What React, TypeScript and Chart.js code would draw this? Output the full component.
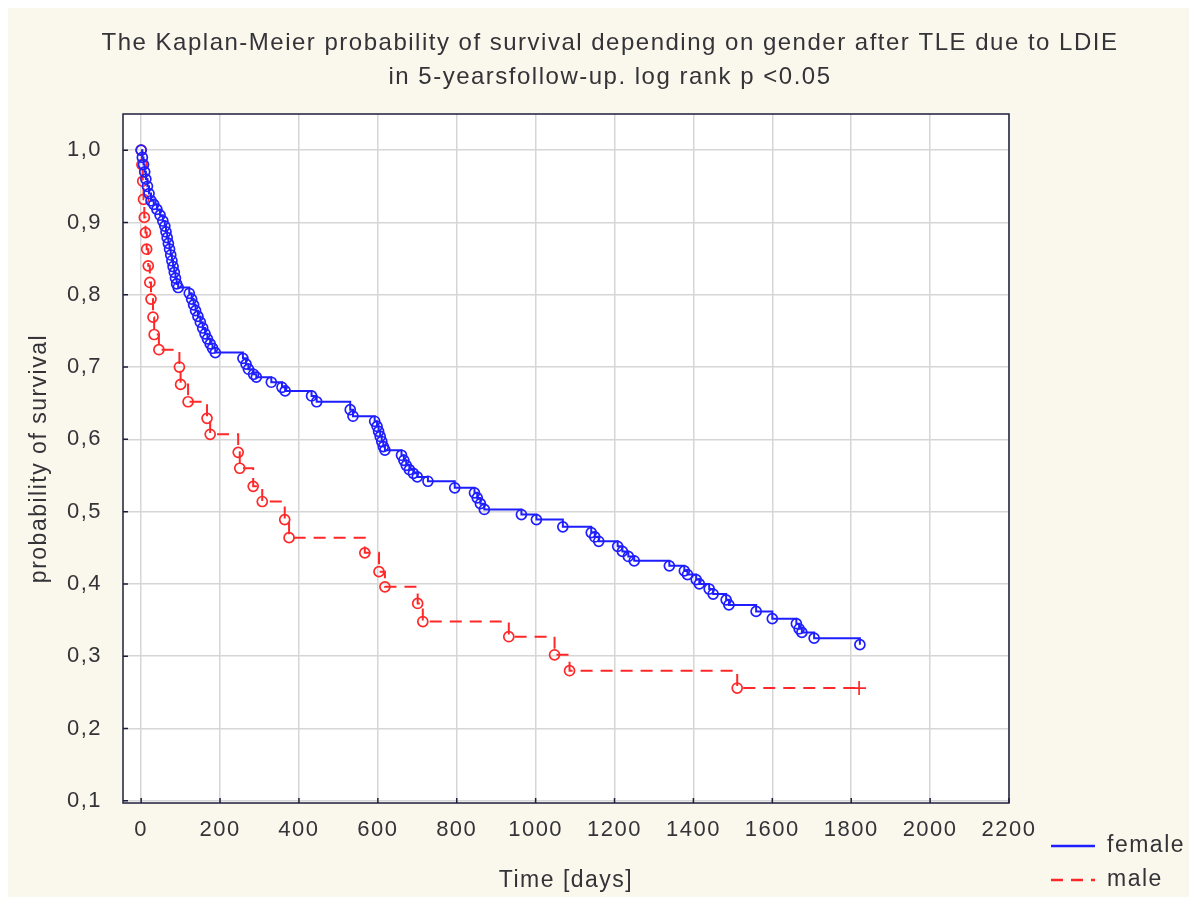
import React, { useEffect, useRef } from 'react';
import { Chart, registerables } from 'chart.js';

Chart.register(...registerables);

// Kaplan-Meier step points: day of each step and survival after it
const femaleDays = [
  0, 3, 6, 9, 12, 16, 20, 25, 32, 40, 48, 55, 60, 63, 66, 69, 72, 75, 78, 81,
  84, 87, 90, 94, 122, 128, 133, 138, 144, 150, 156, 162, 168, 175, 181, 188,
  258, 266, 272, 285, 292, 330, 357, 365, 432, 445, 530, 537, 592, 598, 602,
  606, 610, 614, 618, 660, 666, 672, 680, 690, 700, 727, 795, 845, 852, 860,
  870, 964, 1002, 1069, 1141, 1150, 1160, 1208, 1220, 1235, 1250, 1339, 1377,
  1385, 1407, 1415, 1440, 1450, 1483, 1490, 1559, 1600, 1661, 1668, 1675, 1706,
  1822,
];
const femaleSurvival = [
  1.0, 0.99, 0.98, 0.97, 0.96, 0.95, 0.94, 0.93, 0.925, 0.918, 0.91, 0.902,
  0.895, 0.887, 0.879, 0.871, 0.863, 0.855, 0.847, 0.839, 0.831, 0.823, 0.815,
  0.81, 0.802, 0.794, 0.786, 0.778, 0.77, 0.762, 0.754, 0.746, 0.739, 0.732,
  0.726, 0.72, 0.712, 0.704, 0.697, 0.69, 0.686, 0.679, 0.672, 0.667, 0.66,
  0.652, 0.641, 0.632, 0.625, 0.618, 0.611, 0.604, 0.597, 0.59, 0.585, 0.578,
  0.571, 0.564, 0.558, 0.553, 0.548, 0.542, 0.533, 0.526, 0.519, 0.511, 0.503,
  0.496, 0.489, 0.479, 0.471, 0.465, 0.459, 0.452, 0.445, 0.438, 0.432, 0.425,
  0.418, 0.413, 0.406, 0.4, 0.393, 0.386, 0.378, 0.371, 0.362, 0.352, 0.345,
  0.338, 0.333, 0.325, 0.316,
];

const maleDays = [
  0, 2, 4, 6, 8, 11, 14, 18, 22, 25, 30, 33, 45, 97, 100, 119, 167, 175, 246,
  250, 284, 307, 364, 375, 567, 603, 618, 701, 714, 932, 1048, 1086, 1511, 1820,
];
const maleSurvival = [
  1.0, 0.98, 0.957, 0.932, 0.907, 0.886, 0.863, 0.84, 0.817, 0.794, 0.769,
  0.745, 0.724, 0.7, 0.676, 0.652, 0.629, 0.607, 0.582, 0.56, 0.535, 0.514,
  0.489, 0.464, 0.443, 0.417, 0.396, 0.373, 0.348, 0.327, 0.302, 0.28, 0.256,
  0.256,
];

const xTickValues = [0, 200, 400, 600, 800, 1000, 1200, 1400, 1600, 1800, 2000, 2200];
const yTickValues = [0.1, 0.2, 0.3, 0.4, 0.5, 0.6, 0.7, 0.8, 0.9, 1.0];
const yTickLabels = ['0,1', '0,2', '0,3', '0,4', '0,5', '0,6', '0,7', '0,8', '0,9', '1,0'];

const titleLines = [
  'The Kaplan-Meier probability of survival depending on gender after TLE due to LDIE',
  'in 5-yearsfollow-up. log rank p <0.05',
];
const xTitle = 'Time [days]';
const yTitle = 'probability of survival';
const seriesNames = ['female', 'male'];

const FONT = "'Liberation Sans', Arial, sans-serif";
const TEXT = '#333338';
const BLUE = 'rgb(30, 30, 255)';
const RED = 'rgb(255, 40, 40)';
const PAGE_BG = '#FAF8EC';
const FRAME = '#1e1e3c';
const SPACING = '1.5px';

const W = 1189;
const H = 897;

const decorPlugin = {
  id: 'decor',
  beforeUpdate(chart: any) {
    chart.ctx.letterSpacing = SPACING;
  },
  beforeDraw(chart: any) {
    const { ctx, chartArea: a, width, height } = chart;
    ctx.letterSpacing = SPACING;
    ctx.save();
    ctx.fillStyle = PAGE_BG;
    ctx.fillRect(0, 0, width, height);
    ctx.fillStyle = '#ffffff';
    ctx.fillRect(a.left, a.top, a.right - a.left, a.bottom - a.top);
    ctx.restore();
  },
  afterDraw(chart: any) {
    const { ctx, chartArea: a, scales } = chart;
    ctx.save();
    ctx.strokeStyle = FRAME;
    ctx.lineWidth = 1.5;
    ctx.strokeRect(a.left, a.top, a.right - a.left, a.bottom - a.top);
    ctx.beginPath();
    for (const v of xTickValues) {
      const px = scales.x.getPixelForValue(v);
      ctx.moveTo(px, a.bottom);
      ctx.lineTo(px, a.bottom - 5);
    }
    for (const v of yTickValues) {
      const py = scales.y.getPixelForValue(v);
      ctx.moveTo(a.left, py);
      ctx.lineTo(a.left + 5, py);
    }
    ctx.stroke();

    // legend below-right of the plot
    const rows = [a.bottom + 43, a.bottom + 77];
    const x0 = a.right + 42;
    const x1 = a.right + 86;
    chart.data.datasets.forEach((ds: any, i: number) => {
      const y = rows[i];
      ctx.beginPath();
      ctx.setLineDash(ds.borderDash || []);
      ctx.strokeStyle = ds.borderColor;
      ctx.lineWidth = 2.5;
      ctx.moveTo(x0, y);
      ctx.lineTo(x1, y);
      ctx.stroke();
      ctx.setLineDash([]);
      ctx.fillStyle = TEXT;
      ctx.font = `23px ${FONT}`;
      ctx.textBaseline = 'middle';
      ctx.textAlign = 'left';
      ctx.fillText(ds.label, x1 + 12, y);
    });
    ctx.restore();
  },
};

export default function App() {
  const canvasRef = useRef<HTMLCanvasElement | null>(null);

  useEffect(() => {
    const canvas = canvasRef.current;
    if (!canvas) return;

    const female = femaleDays.map((d, i) => ({ x: d, y: femaleSurvival[i] }));
    const male = maleDays.map((d, i) => ({ x: d, y: maleSurvival[i] }));
    const maleStyles = maleDays.map((_, i) => (i === maleDays.length - 1 ? 'cross' : 'circle'));
    const maleRadii = maleDays.map((_, i) => (i === maleDays.length - 1 ? 7 : 5));

    const chart = new Chart(canvas, {
      type: 'line',
      data: {
        datasets: [
          {
            label: seriesNames[0],
            data: female,
            stepped: 'before',
            borderColor: BLUE,
            borderWidth: 2,
            fill: false,
            pointStyle: 'circle',
            pointRadius: 5,
            pointBorderColor: BLUE,
            pointBackgroundColor: 'rgba(0,0,0,0)',
            pointBorderWidth: 1.7,
          },
          {
            label: seriesNames[1],
            data: male,
            stepped: 'before',
            borderColor: RED,
            borderWidth: 2,
            borderDash: [12, 8],
            fill: false,
            pointStyle: maleStyles as any,
            pointRadius: maleRadii,
            pointBorderColor: RED,
            pointBackgroundColor: 'rgba(0,0,0,0)',
            pointBorderWidth: 1.7,
          },
        ],
      },
      options: {
        responsive: false,
        animation: false,
        layout: { padding: { left: 15, right: 0, top: 0, bottom: 0 } },
        plugins: {
          legend: { display: false },
          tooltip: { enabled: false },
          title: {
            display: true,
            text: titleLines,
            color: TEXT,
            font: { family: FONT, size: 24, weight: 'normal', lineHeight: 34 / 24 },
            padding: { top: 18, bottom: 20 },
          },
        },
        scales: {
          x: {
            type: 'linear',
            min: -46,
            max: 2200,
            afterBuildTicks: (axis: any) => {
              axis.ticks = xTickValues.map((v) => ({ value: v }));
            },
            afterFit: (axis: any) => {
              axis.height = 102;
            },
            ticks: {
              color: TEXT,
              font: { family: FONT, size: 22 },
              padding: 14,
              maxRotation: 0,
              autoSkip: false,
              callback: (v: any) => String(v),
            },
            grid: { color: '#d6d6d6', lineWidth: 1.5, drawTicks: false },
            border: { display: false },
            title: {
              display: true,
              text: xTitle,
              color: TEXT,
              font: { family: FONT, size: 23 },
              padding: { top: 22, bottom: 11 },
            },
          },
          y: {
            type: 'linear',
            min: 0.097,
            max: 1.05,
            afterBuildTicks: (axis: any) => {
              axis.ticks = yTickValues.map((v) => ({ value: v }));
            },
            afterFit: (axis: any) => {
              axis.width = 100;
            },
            ticks: {
              color: TEXT,
              font: { family: FONT, size: 22 },
              padding: 21,
              callback: (v: any) => yTickLabels[yTickValues.indexOf(v)] ?? '',
            },
            grid: { color: '#d6d6d6', lineWidth: 1.5, drawTicks: false },
            border: { display: false },
            title: {
              display: true,
              text: yTitle,
              color: TEXT,
              font: { family: FONT, size: 23 },
              padding: { top: 3, bottom: 13 },
            },
          },
          // empty band on the right that holds the legend
          side: {
            type: 'linear',
            position: 'right',
            display: true,
            afterFit: (axis: any) => {
              axis.width = 188;
            },
            ticks: { display: false },
            grid: { display: false, drawTicks: false },
            border: { display: false },
          },
        },
      },
      plugins: [decorPlugin],
    });

    return () => chart.destroy();
  }, []);

  return (
    <div style={{ width: 1181, height: 889 }}>
      <canvas ref={canvasRef} width={W} height={H} style={{ display: 'block' }} />
    </div>
  );
}
